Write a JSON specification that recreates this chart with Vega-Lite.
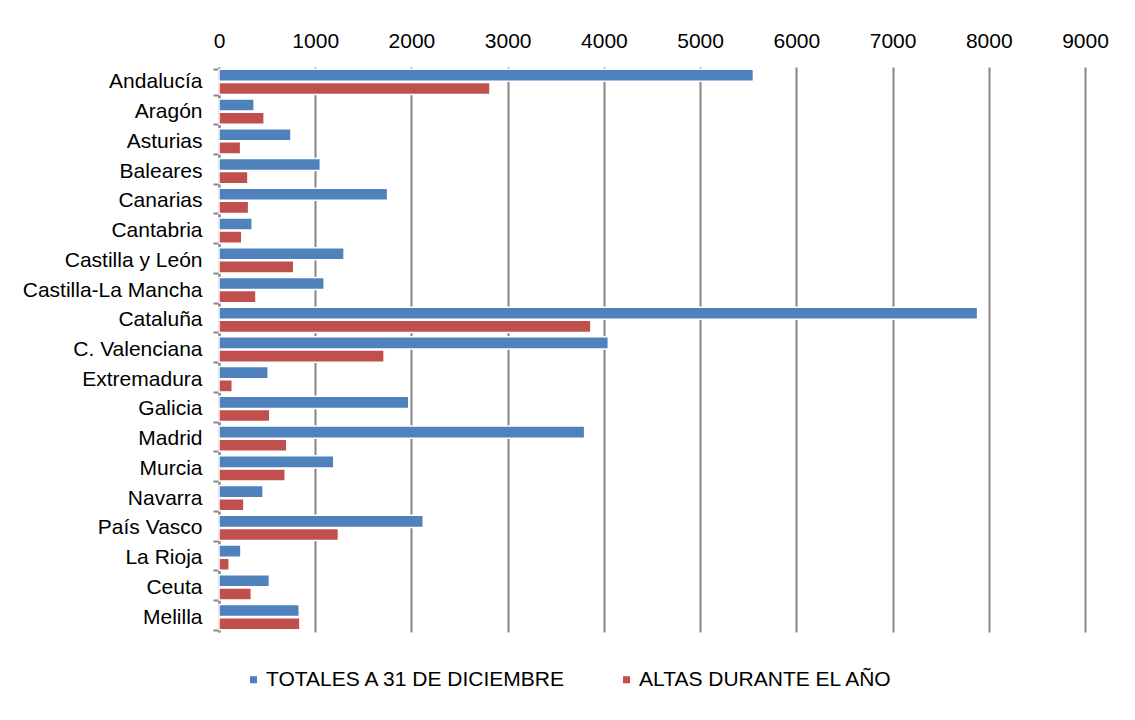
{
  "$schema": "https://vega.github.io/schema/vega-lite/v6.json",
  "width": 866,
  "height": 565,
  "autosize": {"type": "none"},
  "padding": {"left": 219, "top": 67, "right": 50, "bottom": 88},
  "background": "white",
  "data": {"values": [
    {"region": "Andalucía", "serie": "TOTALES A 31 DE DICIEMBRE", "value": 5554},
    {"region": "Andalucía", "serie": "ALTAS DURANTE EL AÑO", "value": 2816},
    {"region": "Aragón", "serie": "TOTALES A 31 DE DICIEMBRE", "value": 365},
    {"region": "Aragón", "serie": "ALTAS DURANTE EL AÑO", "value": 469},
    {"region": "Asturias", "serie": "TOTALES A 31 DE DICIEMBRE", "value": 748},
    {"region": "Asturias", "serie": "ALTAS DURANTE EL AÑO", "value": 225},
    {"region": "Baleares", "serie": "TOTALES A 31 DE DICIEMBRE", "value": 1053},
    {"region": "Baleares", "serie": "ALTAS DURANTE EL AÑO", "value": 301},
    {"region": "Canarias", "serie": "TOTALES A 31 DE DICIEMBRE", "value": 1752},
    {"region": "Canarias", "serie": "ALTAS DURANTE EL AÑO", "value": 308},
    {"region": "Cantabria", "serie": "TOTALES A 31 DE DICIEMBRE", "value": 345},
    {"region": "Cantabria", "serie": "ALTAS DURANTE EL AÑO", "value": 237},
    {"region": "Castilla y León", "serie": "TOTALES A 31 DE DICIEMBRE", "value": 1300},
    {"region": "Castilla y León", "serie": "ALTAS DURANTE EL AÑO", "value": 777},
    {"region": "Castilla-La Mancha", "serie": "TOTALES A 31 DE DICIEMBRE", "value": 1093},
    {"region": "Castilla-La Mancha", "serie": "ALTAS DURANTE EL AÑO", "value": 384},
    {"region": "Cataluña", "serie": "TOTALES A 31 DE DICIEMBRE", "value": 7884},
    {"region": "Cataluña", "serie": "ALTAS DURANTE EL AÑO", "value": 3865},
    {"region": "C. Valenciana", "serie": "TOTALES A 31 DE DICIEMBRE", "value": 4046},
    {"region": "C. Valenciana", "serie": "ALTAS DURANTE EL AÑO", "value": 1716},
    {"region": "Extremadura", "serie": "TOTALES A 31 DE DICIEMBRE", "value": 511},
    {"region": "Extremadura", "serie": "ALTAS DURANTE EL AÑO", "value": 138},
    {"region": "Galicia", "serie": "TOTALES A 31 DE DICIEMBRE", "value": 1972},
    {"region": "Galicia", "serie": "ALTAS DURANTE EL AÑO", "value": 528},
    {"region": "Madrid", "serie": "TOTALES A 31 DE DICIEMBRE", "value": 3800},
    {"region": "Madrid", "serie": "ALTAS DURANTE EL AÑO", "value": 705},
    {"region": "Murcia", "serie": "TOTALES A 31 DE DICIEMBRE", "value": 1193},
    {"region": "Murcia", "serie": "ALTAS DURANTE EL AÑO", "value": 688},
    {"region": "Navarra", "serie": "TOTALES A 31 DE DICIEMBRE", "value": 458},
    {"region": "Navarra", "serie": "ALTAS DURANTE EL AÑO", "value": 259},
    {"region": "País Vasco", "serie": "TOTALES A 31 DE DICIEMBRE", "value": 2123},
    {"region": "País Vasco", "serie": "ALTAS DURANTE EL AÑO", "value": 1241},
    {"region": "La Rioja", "serie": "TOTALES A 31 DE DICIEMBRE", "value": 228},
    {"region": "La Rioja", "serie": "ALTAS DURANTE EL AÑO", "value": 106},
    {"region": "Ceuta", "serie": "TOTALES A 31 DE DICIEMBRE", "value": 524},
    {"region": "Ceuta", "serie": "ALTAS DURANTE EL AÑO", "value": 336},
    {"region": "Melilla", "serie": "TOTALES A 31 DE DICIEMBRE", "value": 834},
    {"region": "Melilla", "serie": "ALTAS DURANTE EL AÑO", "value": 841}
  ]},
  "mark": {"type": "bar", "stroke": "white", "strokeWidth": 1.5},
  "encoding": {
    "y": {
      "field": "region", "type": "nominal", "sort": null,
      "scale": {"paddingInner": 0.15, "paddingOuter": 0.075},
      "axis": {
        "title": null, "tickBand": "extent", "tickSize": 6, "tickColor": "#868686", "tickWidth": 2,
        "domainColor": "#868686", "domainWidth": 2, "labelPadding": 11,
        "labelFont": "Liberation Sans", "labelFontSize": 21, "labelColor": "#000000", "grid": false
      }
    },
    "yOffset": {
      "field": "serie", "type": "nominal",
      "sort": ["TOTALES A 31 DE DICIEMBRE", "ALTAS DURANTE EL AÑO"],
      "scale": {"paddingInner": 0.08}
    },
    "x": {
      "field": "value", "type": "quantitative",
      "scale": {"domain": [0, 9000], "nice": false},
      "axis": {
        "orient": "top", "title": null, "values": [0,1000,2000,3000,4000,5000,6000,7000,8000,9000],
        "format": "d",
        "domain": false, "ticks": false, "labelPadding": 16, "labelFlush": false,
        "labelFont": "Liberation Sans", "labelFontSize": 21, "labelColor": "#000000",
        "grid": true, "gridColor": "#868686", "gridWidth": 2
      }
    },
    "color": {
      "field": "serie", "type": "nominal",
      "scale": {"domain": ["TOTALES A 31 DE DICIEMBRE", "ALTAS DURANTE EL AÑO"], "range": ["#4F81BD", "#C0504D"]},
      "legend": {
        "orient": "none", "legendX": 24, "legendY": 602, "direction": "horizontal", "title": null,
        "symbolType": "square", "symbolSize": 50, "symbolStrokeWidth": 0,
        "labelFont": "Liberation Sans", "labelFontSize": 21, "labelColor": "#000000",
        "labelOffset": 2, "columnPadding": 49, "labelLimit": 400
      }
    }
  },
  "config": {
    "view": {"stroke": null}
  }
}
